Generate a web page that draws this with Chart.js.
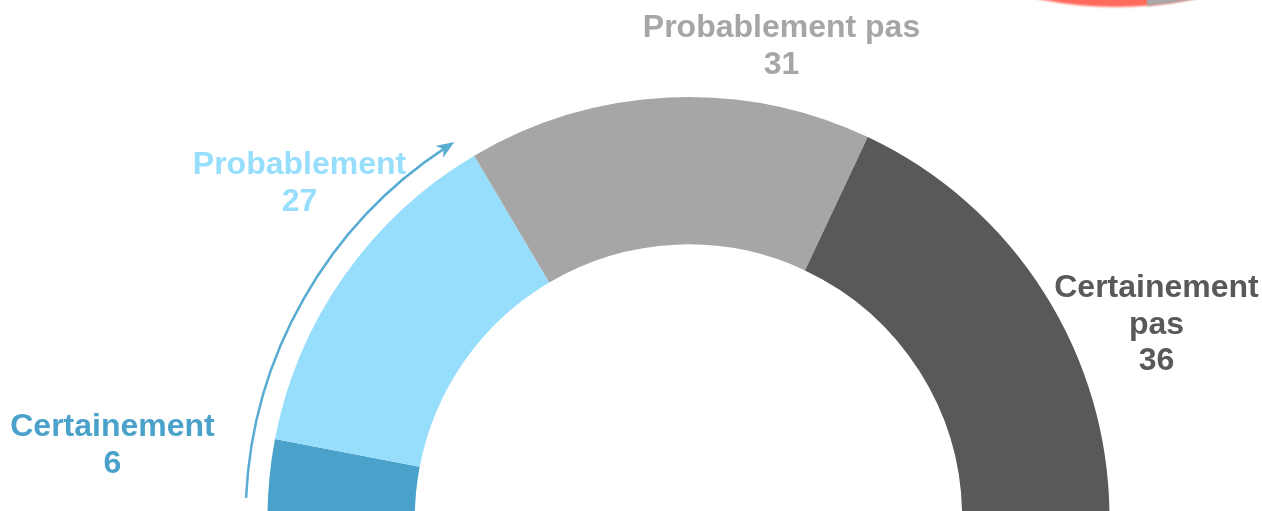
<!DOCTYPE html>
<html>
<head>
<meta charset="utf-8">
<script src="https://cdn.jsdelivr.net/npm/chart.js@4/dist/chart.umd.min.js"></script>
<style>
  html, body { margin: 0; padding: 0; background: #ffffff; }
  #wrap { width: 1262px; height: 511px; position: relative; }
</style>
</head>
<body>
<div id="wrap"><canvas id="gauge"></canvas></div>
<script>
// ======================
// DATA
// ======================

const categories = ["Certainement", "Probablement", "Probablement pas", "Certainement pas"];
const labelLines = [["Certainement"], ["Probablement"], ["Probablement pas"], ["Certainement", "pas"]];
const values = [6, 27, 31, 36];

const colors = ["#4aa2ca", "#97defd", "#a6a6a6", "#595959"];

// label anchor (centre x, first baseline) relative to the doughnut centre
const labelOffsets = [[-576, -82], [-389, -344], [93, -481], [468, -221]];


// ======================
// LABELS + ARROW PLUGIN
// ======================

const decorations = {
    id: "decorations",
    afterDatasetsDraw(chart) {
        const ctx = chart.ctx;
        const arc = chart.getDatasetMeta(0).data[0];
        const cx = arc.x;
        const cy = arc.y;
        const R = arc.outerRadius;

        // partial shape cut at the top right
        ctx.save();
        ctx.beginPath();
        ctx.rect(0, 0, chart.width, chart.height);
        ctx.clip();
        ctx.filter = "blur(1px)";
        ctx.beginPath();
        ctx.arc(1116, -373, 380, 0, Math.PI * 2);
        ctx.fillStyle = "#ff6a5c";
        ctx.fill();
        ctx.beginPath();
        ctx.rect(1147, -20, 200, 60);
        ctx.clip();
        ctx.beginPath();
        ctx.arc(1116, -373, 380, 0, Math.PI * 2);
        ctx.fillStyle = "#a8a8a8";
        ctx.fill();
        ctx.restore();

        // curved arrow
        const r = R * 1.052;
        const a1 = Math.PI * (182.6 / 180);
        const a2 = Math.PI * (236.8 / 180);
        ctx.save();
        ctx.strokeStyle = "#58acd2";
        ctx.fillStyle = "#58acd2";
        ctx.lineWidth = 2.5;
        ctx.beginPath();
        ctx.arc(cx, cy, r, a1, a2, false);
        ctx.stroke();
        const tx = cx + r * Math.cos(a2);
        const ty = cy + r * Math.sin(a2);
        const dir = a2 + Math.PI / 2;
        ctx.translate(tx, ty);
        ctx.rotate(dir);
        ctx.beginPath();
        ctx.moveTo(10, 0);
        ctx.lineTo(-8, -7);
        ctx.lineTo(-3, 0);
        ctx.lineTo(-8, 7);
        ctx.closePath();
        ctx.fill();
        ctx.restore();

        // labels
        ctx.save();
        ctx.font = "bold 32px 'Liberation Sans', Arial, sans-serif";
        ctx.textAlign = "center";
        ctx.textBaseline = "alphabetic";
        categories.forEach((name, i) => {
            const lines = labelLines[i].concat([String(values[i])]);
            const x = cx + labelOffsets[i][0];
            let y = cy + labelOffsets[i][1];
            ctx.fillStyle = colors[i];
            lines.forEach(line => {
                ctx.fillText(line, x, y);
                y += 36.7;
            });
        });
        ctx.restore();
    }
};


// ======================
// HALF DOUGHNUT
// ======================

new Chart(
    document.getElementById("gauge"),
    {
        type: "doughnut",

        data: {
            labels: categories,
            datasets: [{
                data: values,
                backgroundColor: colors,
                borderWidth: 0,
                radius: 421,
                cutout: "65%",
                clip: false
            }]
        },

        options: {
            responsive: true,
            maintainAspectRatio: false,
            animation: false,
            rotation: -90,
            circumference: 180,
            layout: {
                padding: { top: 104, left: 115, right: 0, bottom: 0 }
            },
            plugins: {
                legend: { display: false },
                tooltip: { enabled: false }
            }
        },

        plugins: [decorations]
    }
);
</script>
</body>
</html>
